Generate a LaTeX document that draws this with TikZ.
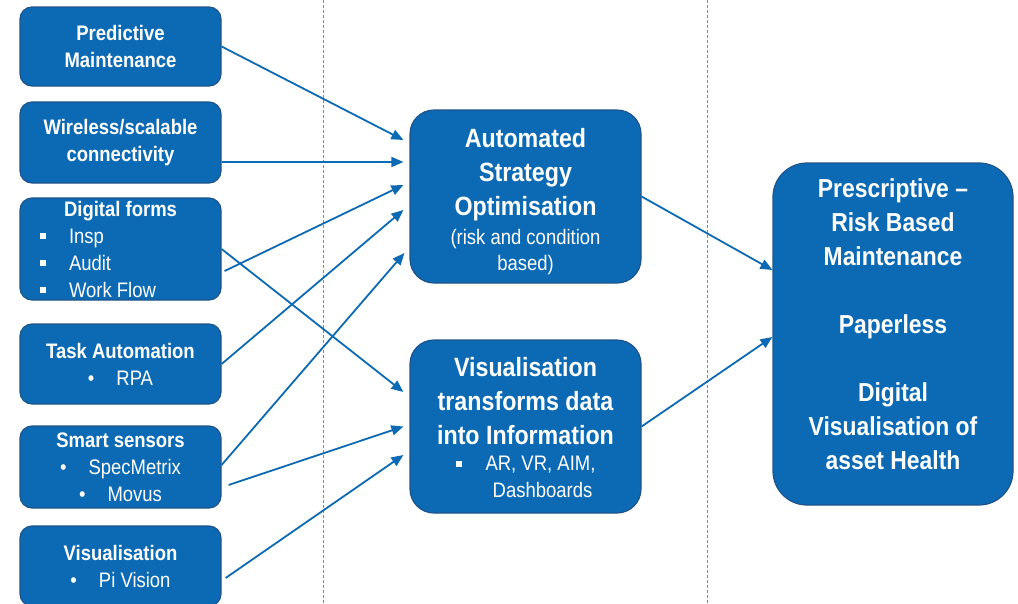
\documentclass[tikz,border=0pt]{standalone}
\usepackage{fontspec}
\setmainfont{Liberation Sans}[FakeStretch=0.88]
\usetikzlibrary{arrows.meta, positioning, calc}

\definecolor{boxblue}{RGB}{12,106,180}
\definecolor{boxedge}{RGB}{30,84,138}
\definecolor{guideblue}{RGB}{80,145,225}

\newcommand\sqbullet{\rule[4pt]{6pt}{6pt}}
\newcommand\rdbullet{\textbullet\hspace{22pt}}
% square bullet item, fixed width so the items line up on the left
\newcommand\sqitem[2]{\makebox[#1][l]{\sqbullet\hspace{23pt}#2}}
\newcommand\reg{\fontsize{21}{27}\selectfont\mdseries}

\tikzset{
  blockbox/.style={draw=boxedge, line width=1.2pt, fill=boxblue, text=white, align=center, inner sep=2pt},
  leftbox/.style={blockbox, rounded corners=12pt, minimum width=201pt, font=\fontsize{21}{27}\selectfont\bfseries},
  midbox/.style={blockbox, rounded corners=24pt, minimum width=231pt, minimum height=173pt},
  bigbox/.style={blockbox, rounded corners=34pt, minimum width=240pt, minimum height=342pt},
  boxtext/.style={text=white, align=center, inner sep=0pt, font=\fontsize{26.4}{34}\selectfont\bfseries},
  flow/.style={draw=boxblue, line width=1.8pt, -{Triangle[length=12pt,width=10pt]}},
  guide/.style={draw=guideblue, line width=0.9pt, dash pattern=on 3pt off 2pt},
}

\begin{document}
\begin{tikzpicture}[x=1pt, y=-1pt]
\fill[white] (0,0) rectangle (1018,603);
\useasboundingbox (0,0) rectangle (1018,603);

% dashed column guides
\draw[guide] (323,0) -- (323,603);
\draw[guide] (707,0) -- (707,603);

% inputs
\node[leftbox, minimum height=79pt] (pm) at (120.5,46.5) {Predictive\\Maintenance};
\node[leftbox, minimum height=81pt] (wsc) at (120.5,142.5) {Wireless/scalable\\connectivity};
\node[leftbox, minimum height=102pt] (dfm) at (120.5,249) {Digital forms\\{\reg\sqitem{161pt}{Insp}}\\{\reg\sqitem{161pt}{Audit}}\\{\reg\sqitem{161pt}{Work Flow}}};
\node[leftbox, minimum height=80pt] (tsk) at (120.5,364) {Task Automation\\{\reg\rdbullet RPA}};
\node[leftbox, minimum height=82pt] (sns) at (120.5,467) {Smart sensors\\{\reg\rdbullet SpecMetrix}\\{\reg\rdbullet Movus}};
\node[leftbox, minimum height=80pt] (vis) at (120.5,566) {Visualisation\\{\reg\rdbullet Pi Vision}};

% middle column
\node[midbox] (aso) at (525.5,196.5) {};
\node[boxtext] (asotext) at ([yshift=-5pt]aso.center) {Automated\\Strategy\\Optimisation\\[-5pt]{\reg(risk and condition}\\[-8pt]{\reg based)}};
\node[midbox] (vtd) at (525.5,426.5) {};
\node[boxtext] (vtdtext) at ([yshift=-1.5pt]vtd.center) {Visualisation\\transforms data\\into Information\\[-8pt]{\reg\sqbullet\hspace{24pt}AR, VR, AIM,}\\[-7pt]{\reg\hspace*{34pt}Dashboards}};

% outcome
\node[bigbox] (prm) at (893,334) {};
\node[boxtext, font=\fontsize{26}{34}\selectfont\bfseries] (prmtext) at ([yshift=10pt]prm.center) {Prescriptive --\\Risk Based\\Maintenance\\[34pt]Paperless\\[34pt]Digital\\Visualisation of\\asset Health};

% inputs -> strategy optimisation
\draw[flow] (pm.east) -- ([xshift=-6pt,yshift=56.5pt]aso.west);
\draw[flow] ([yshift=-19.5pt]wsc.east) -- ([xshift=-6pt,yshift=34.5pt]aso.west);
\draw[flow] ([xshift=3pt,yshift=-22pt]dfm.east) -- ([xshift=-6pt,yshift=11.5pt]aso.west);
\draw[flow] (tsk.east) -- ([xshift=-6pt,yshift=-13.5pt]aso.west);
\draw[flow] ([yshift=2pt]sns.east) -- ([xshift=-5pt,yshift=-56.5pt]aso.west);

% inputs -> visualisation
\draw[flow] (dfm.east) -- ([xshift=-6pt,yshift=34.5pt]vtd.west);
\draw[flow] ([xshift=7pt,yshift=-18pt]sns.east) -- ([xshift=-6pt]vtd.west);
\draw[flow] ([xshift=4pt,yshift=-12pt]vis.east) -- ([xshift=-6pt,yshift=-28.5pt]vtd.west);

% middle -> outcome
\draw[flow] (aso.east) -- ([yshift=64pt]prm.west);
\draw[flow] (vtd.east) -- ([yshift=-3pt]prm.west);
\end{tikzpicture}
\end{document}
